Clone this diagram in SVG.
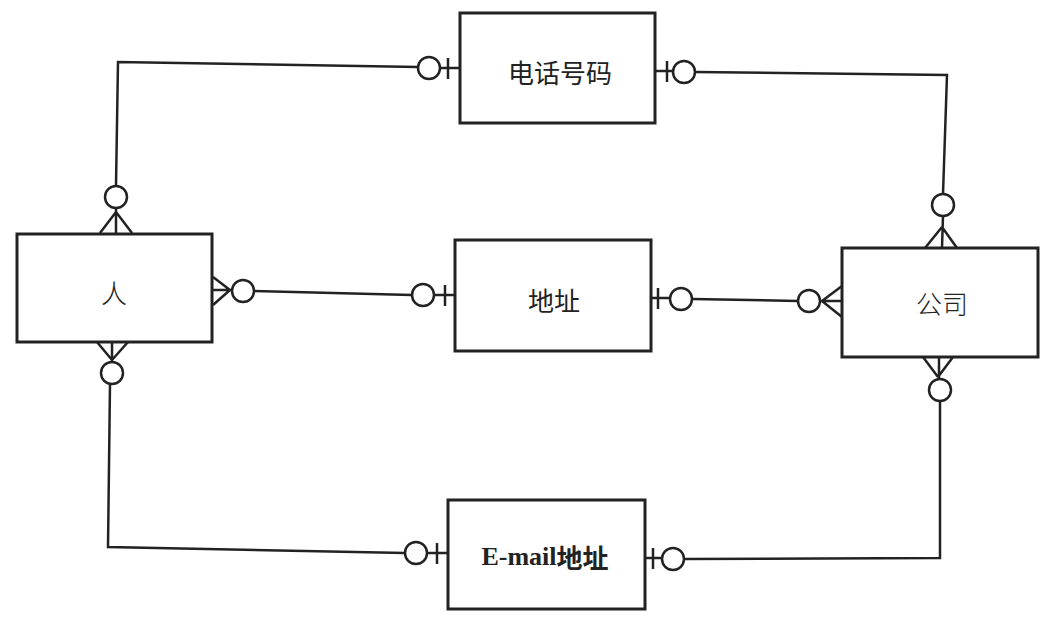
<svg xmlns="http://www.w3.org/2000/svg" width="1053" height="624" viewBox="0 0 1053 624">
<style>
.box{fill:#fff;stroke:#222;stroke-width:3}
.ln{fill:none;stroke:#222;stroke-width:2.5}
.c{fill:#fff;stroke:#222;stroke-width:2.5}
.t{font-family:"Noto Sans CJK SC","Noto Sans",sans-serif;font-size:26px;fill:#222;text-anchor:middle;dominant-baseline:central}
.e{font-family:"Liberation Serif","Noto Sans CJK SC",serif;font-weight:bold}
</style>
<rect width="1053" height="624" fill="#fff"/>
<g id="connectors">
<!-- 人 top to 电话号码 left -->
<path class="ln" d="M116 186 L118 62 L418 67"/>
<circle class="c" cx="429" cy="68" r="11"/>
<path class="ln" d="M440 68 L460 68 M448 58 L448 79"/>
<path class="ln" d="M116 208 L116 233 M116 212 L100 233 M116 212 L132 233"/>
<circle class="c" cx="116" cy="197" r="11"/>
<!-- 电话号码 right to 公司 top -->
<path class="ln" d="M655 71 L673 71 M667 61 L667 82"/>
<circle class="c" cx="684" cy="72" r="11"/>
<path class="ln" d="M695 72 L947 75 L943 194"/>
<circle class="c" cx="943" cy="205" r="11"/>
<path class="ln" d="M943 216 L942 248 M942 227 L925 248 M942 227 L957 248"/>
<!-- 人 right to 地址 left -->
<path class="ln" d="M213 290 L232 290 M230 290 L213 277 M230 290 L213 305"/>
<circle class="c" cx="243" cy="291" r="11"/>
<path class="ln" d="M254 291 L412 295"/>
<circle class="c" cx="423" cy="295" r="11"/>
<path class="ln" d="M434 295 L455 295 M445 285 L445 306"/>
<!-- 地址 right to 公司 left -->
<path class="ln" d="M651 298 L670 298 M658 288 L658 309"/>
<circle class="c" cx="681" cy="299" r="11"/>
<path class="ln" d="M692 299 L798 301"/>
<circle class="c" cx="809" cy="301" r="11"/>
<path class="ln" d="M820 301 L842 301 M822 301 L842 286 M822 301 L842 317"/>
<!-- 人 bottom to E-mail left -->
<path class="ln" d="M112 342 L112 362 M112 360 L97 342 M112 360 L128 342"/>
<circle class="c" cx="112" cy="373" r="11"/>
<path class="ln" d="M110 384 L108 547 L405 553"/>
<circle class="c" cx="416" cy="553" r="11"/>
<path class="ln" d="M427 553 L448 553 M437 543 L437 564"/>
<!-- 公司 bottom to E-mail right -->
<path class="ln" d="M939 357 L939 379 M938 377 L923 357 M938 377 L953 357"/>
<circle class="c" cx="940" cy="390" r="11"/>
<path class="ln" d="M940 401 L940 558 L684 559"/>
<circle class="c" cx="673" cy="559" r="11"/>
<path class="ln" d="M645 558 L662 558 M653 548 L653 569"/>
</g>
<g id="person">
<rect class="box" x="17" y="234" width="195" height="108"/>
<text class="t" x="114" y="291" style="font-weight:300">人</text>
</g>
<g id="phone">
<rect class="box" x="460" y="13" width="195" height="110"/>
<text class="t" x="560" y="71">电话号码</text>
</g>
<g id="address">
<rect class="box" x="455" y="240" width="196" height="111"/>
<text class="t" x="554" y="299">地址</text>
</g>
<g id="company">
<rect class="box" x="842" y="248" width="196" height="109"/>
<text class="t" x="942" y="302" style="font-weight:300">公司</text>
</g>
<g id="email">
<rect class="box" x="448" y="500" width="197" height="109"/>
<text class="t" x="545" y="556" font-size="26"><tspan class="e">E-mail</tspan><tspan style="font-weight:bold">地址</tspan></text>
</g>
</svg>
